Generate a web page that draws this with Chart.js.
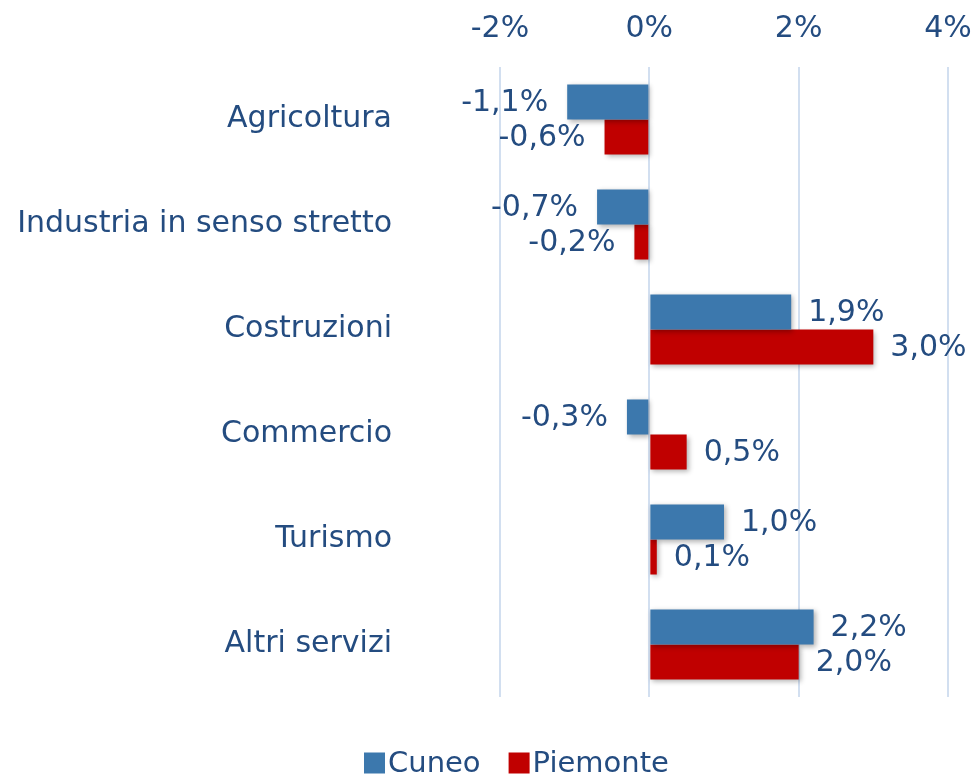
<!DOCTYPE html>
<html>
<head>
<meta charset="utf-8">
<script src="https://cdn.jsdelivr.net/npm/chart.js@4/dist/chart.umd.min.js"></script>
<style>
html,body{margin:0;padding:0;background:#fff;}
#wrap{width:975px;height:776px;position:relative;}
</style>
</head>
<body>
<div id="wrap"><canvas id="c" width="975" height="776"></canvas></div>
<script>
const categories = ["Agricoltura","Industria in senso stretto","Costruzioni","Commercio","Turismo","Altri servizi"];
const cuneo = [-1.1,-0.7,1.9,-0.3,1.0,2.2];
const piemonte = [-0.6,-0.2,3.0,0.5,0.1,2.0];
const seriesNames = ["Cuneo","Piemonte"];
const xTicks = [-2,0,2,4];

const TEXT = "#244C80";
const FONT = "DejaVu Sans";
const FS = 30;
const COLORS = ["#3C78AD","#C00000"];

const fmt = v => v.toFixed(1).replace('.',',') + '%';

const shadowPlugin = {
  id:'shadow',
  beforeDatasetsDraw(chart){
    const ctx = chart.ctx; ctx.save();
    ctx.shadowColor='rgba(0,0,0,0.3)'; ctx.shadowBlur=5; ctx.shadowOffsetX=2; ctx.shadowOffsetY=2;
  },
  afterDatasetsDraw(chart){ chart.ctx.restore(); }
};

const labelPlugin = {
  id:'valLabels',
  afterDraw(chart){
    const ctx = chart.ctx;
    ctx.save();
    ctx.font = FS + 'px "' + FONT + '"';
    ctx.fillStyle = TEXT;
    ctx.textBaseline = 'middle';
    chart.data.datasets.forEach((ds, di) => {
      const meta = chart.getDatasetMeta(di);
      meta.data.forEach((bar, i) => {
        const v = ds.data[i];
        if (v >= 0) { ctx.textAlign = 'left'; ctx.fillText(fmt(v), bar.x + 17, bar.y + 1); }
        else { ctx.textAlign = 'right'; ctx.fillText(fmt(v), bar.x - 19, bar.y + 1); }
      });
    });
    // legend
    ctx.font = '29px "' + FONT + '"';
    const cy = 763, box = 21;
    let x = 364;
    ctx.textAlign = 'left';
    seriesNames.forEach((n, k) => {
      ctx.fillStyle = COLORS[k];
      ctx.fillRect(x, cy - box/2, box, box);
      ctx.fillStyle = TEXT;
      ctx.fillText(n, x + box + 3, cy + 1);
      x += box + 3 + ctx.measureText(n).width + 28;
    });
    ctx.restore();
  }
};

new Chart(document.getElementById('c'), {
  type:'bar',
  data:{
    labels: categories,
    datasets:[
      {label:seriesNames[0], data:cuneo, backgroundColor:COLORS[0], categoryPercentage:0.667, barPercentage:1},
      {label:seriesNames[1], data:piemonte, backgroundColor:COLORS[1], categoryPercentage:0.667, barPercentage:1}
    ]
  },
  options:{
    indexAxis:'y',
    responsive:false,
    animation:false,
    layout:{padding:{top:0,bottom:79,left:0,right:27}},
    plugins:{legend:{display:false}, tooltip:{enabled:false}},
    scales:{
      x:{
        position:'top', min:-2, max:4,
        afterBuildTicks(s){ s.ticks = xTicks.map(v=>({value:v})); },
        afterFit(s){ s.height = 67; s.paddingLeft = 0; s.paddingRight = 0; s.paddingTop = 0; s.paddingBottom = 0; },
        ticks:{ callback:v=>v+'%', color:TEXT, font:{family:FONT,size:FS}, padding:20, maxRotation:0 },
        grid:{ color:'#D2DFF0', lineWidth:2, drawTicks:false },
        border:{ display:false }
      },
      y:{
        afterFit(s){ s.width = 500; s.paddingTop = 0; s.paddingBottom = 0; s.paddingLeft = 0; s.paddingRight = 0; },
        ticks:{ color:TEXT, font:{family:FONT,size:FS}, padding:108 },
        grid:{ display:false, drawTicks:false },
        border:{ display:false }
      }
    }
  },
  plugins:[shadowPlugin, labelPlugin]
});
</script>
</body>
</html>
